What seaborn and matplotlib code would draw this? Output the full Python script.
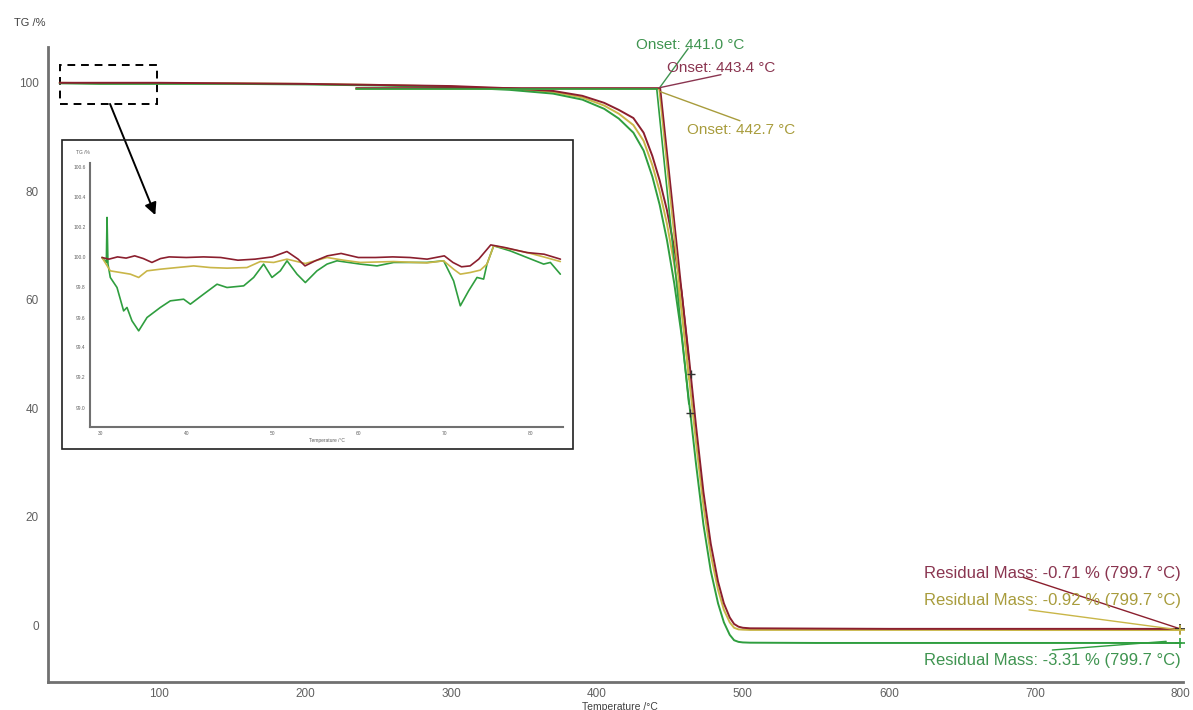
import numpy as np
import pandas as pd
import seaborn as sns
import matplotlib.pyplot as plt
from matplotlib.patches import Rectangle
from matplotlib.ticker import MultipleLocator

# 1. Data (temperature in degC, mass in %)
temp = [32, 60, 100, 150, 200, 250, 300, 340, 370, 390, 405, 415, 425, 432, 438,
        443, 448, 453, 458, 463, 468, 473, 478, 483, 487, 491, 494, 497, 500, 505,
        550, 600, 650, 700, 750, 800]
tg_red = [100.0, 100.0, 100.0, 99.9, 99.8, 99.6, 99.4, 99.0, 98.5, 97.6, 96.3, 95.0,
          93.5, 90.8, 86.5, 82.0, 76.5, 69.5, 61.5, 49.5, 36.5, 24.5, 15.0, 8.0,
          4.0, 1.4, 0.2, -0.3, -0.5, -0.6, -0.65, -0.7, -0.7, -0.7, -0.7, -0.71]
tg_olive = [100.0, 99.9, 99.9, 99.9, 99.8, 99.6, 99.3, 98.9, 98.3, 97.3, 95.8, 94.3,
            92.2, 89.3, 84.8, 80.0, 74.0, 66.5, 58.0, 46.0, 33.5, 22.0, 13.0, 6.5,
            2.8, 0.5, -0.5, -0.8, -0.85, -0.9, -0.9, -0.9, -0.9, -0.92, -0.92, -0.92]
tg_green = [99.9, 99.8, 99.8, 99.8, 99.7, 99.5, 99.2, 98.7, 98.0, 96.9, 95.2, 93.4,
            90.8, 87.5, 82.7, 77.5, 71.0, 63.0, 53.5, 41.5, 29.5, 18.5, 10.0, 4.0,
            0.5, -1.8, -2.8, -3.1, -3.2, -3.25, -3.3, -3.3, -3.3, -3.3, -3.3, -3.31]

onset_temps = [441.0, 443.4, 442.7]      # green, red, olive
onset_base = [98.9, 99.1, 98.8]
residuals = [-3.31, -0.71, -0.92]        # green, red, olive

# zoomed start of the run (inset)
in_t_red = [30.2, 31, 32, 33, 34, 35, 36, 37, 38, 40, 42, 44, 46, 48, 50, 51.7, 53,
            53.8, 55, 56.4, 58, 60, 62, 64, 66, 68, 70, 71, 72, 73, 74, 75.4, 77,
            79.6, 81.6, 83.5]
in_red = [100.0, 99.989, 100.004, 99.996, 100.011, 99.993, 99.967, 99.993, 100.004,
          100.0, 100.004, 100.0, 99.982, 99.989, 100.004, 100.04, 99.989, 99.944,
          99.978, 100.011, 100.027, 100.0, 100.0, 100.004, 100.0, 99.989, 100.011,
          99.967, 99.938, 99.944, 99.989, 100.084, 100.067, 100.033, 100.022, 99.989]
in_t_olive = [30.19, 31.16, 32.33, 33.49, 34.46, 35.43, 36.98, 38.91, 40.85, 42.79,
              44.73, 47.05, 48.6, 50.16, 51.7, 53.84, 56.36, 58.29, 60.23, 64.11,
              67.98, 69.92, 71.08, 71.86, 73.02, 74.19, 74.96, 75.74, 77.67, 79.61,
              81.55, 83.49]
in_olive = [100.0, 99.911, 99.9, 99.889, 99.867, 99.911, 99.922, 99.933, 99.944,
            99.933, 99.929, 99.933, 99.973, 99.967, 99.989, 99.96, 100.0, 99.982,
            99.967, 99.973, 99.964, 99.978, 99.922, 99.889, 99.9, 99.916, 99.956,
            100.078, 100.056, 100.033, 100.004, 99.973]
in_t_green = [30.19, 30.70, 30.78, 30.89, 31.16, 31.94, 32.71, 33.10, 33.68, 34.46,
              35.43, 36.98, 38.14, 39.69, 40.47, 42.02, 43.57, 44.73, 46.67, 47.83,
              48.99, 49.96, 50.93, 51.71, 52.87, 53.84, 55.19, 56.36, 57.52, 60.23,
              62.17, 64.11, 67.98, 69.92, 71.08, 71.86, 72.83, 73.80, 74.57, 74.96,
              75.74, 77.67, 79.61, 81.55, 82.33, 83.49]
in_green = [100.0, 99.967, 100.267, 99.956, 99.867, 99.8, 99.644, 99.667, 99.578,
            99.511, 99.6, 99.667, 99.711, 99.722, 99.689, 99.756, 99.822, 99.8,
            99.811, 99.867, 99.956, 99.867, 99.911, 99.978, 99.889, 99.833, 99.911,
            99.956, 99.978, 99.956, 99.944, 99.967, 99.967, 99.978, 99.844, 99.678,
            99.778, 99.867, 99.856, 99.956, 100.078, 100.044, 100.0, 99.956, 99.967,
            99.889]

inset_yticks = [99.0, 99.2, 99.4, 99.6, 99.8, 100.0, 100.2, 100.4, 100.6]
inset_xticks = [30, 40, 50, 60, 70, 80]

RED = '#8b1f2e'
OLIVE = '#c9b648'
GREEN = '#2f9e3f'
palette = {'red': RED, 'olive': OLIVE, 'green': GREEN}
text_cols = {'red': '#8a3550', 'olive': '#a89c3c', 'green': '#3f9450'}


def long_frame(parts):
    frames = []
    for name, t, v in parts:
        frames.append(pd.DataFrame({'T': t, 'TG': v, 'sample': name}))
    return pd.concat(frames, ignore_index=True)


def style_axis(ax, size):
    sns.despine(ax=ax)
    for s in ['left', 'bottom']:
        ax.spines[s].set_color('#707070')
    ax.tick_params(colors='#707070', labelcolor='#606060', labelsize=size)


sns.set_style('white')
plt.rcParams['font.family'] = ['Liberation Sans', 'DejaVu Sans']

fig = plt.figure(figsize=(11.93, 7.1), dpi=100)
W, H = 1193, 710
ax = fig.add_axes([48 / W, 28 / H, 1135 / W, 635 / H])

# 2. Main TG curves
main_df = long_frame([('olive', temp, tg_olive), ('green', temp, tg_green),
                      ('red', temp, tg_red)])
sns.lineplot(data=main_df, x='T', y='TG', hue='sample', palette=palette,
             hue_order=['olive', 'green', 'red'], linewidth=1.4, legend=False,
             sort=False, ax=ax)

ax.set_xlim(24, 801.5)
ax.set_ylim(-10.5, 106.6)
ax.xaxis.set_major_locator(MultipleLocator(100))
ax.xaxis.set_minor_locator(MultipleLocator(20))
ax.yaxis.set_major_locator(MultipleLocator(20))
ax.yaxis.set_minor_locator(MultipleLocator(10))
ax.set_xticks([100, 200, 300, 400, 500, 600, 700, 800])
style_axis(ax, 8.5)
ax.spines['left'].set_linewidth(2)
ax.spines['bottom'].set_linewidth(2)
ax.tick_params(which='both', direction='out', length=3, width=1)
ax.tick_params(axis='x', pad=1.5)
ax.set_xlabel('Temperature /°C', fontsize=7.5, color='#404040')
ax.xaxis.set_label_coords(0.504, -0.031)
ax.set_ylabel('')
ax.text(-0.03, 1.038, 'TG /%', transform=ax.transAxes, fontsize=8,
        color='#404040', ha='left', va='center')

# 3. Onset construction lines (baseline + inflection tangent)
curves = {'green': tg_green, 'red': tg_red, 'olive': tg_olive}
for name, on, base in zip(['olive', 'red', 'green'],
                          [onset_temps[2], onset_temps[1], onset_temps[0]],
                          [onset_base[2], onset_base[1], onset_base[0]]):
    t_contact = 460.0
    v_contact = np.interp(t_contact, temp, curves[name])
    slope = (base - v_contact) / (t_contact - on)
    t_end = t_contact + 3
    ax.plot([235, on], [base, base], color=palette[name], lw=1.2)
    ax.plot([on, t_end], [base, base - slope * (t_end - on)], color=palette[name], lw=1.2)

ax.text(464, 107, 'Onset: 441.0 °C', color=text_cols['green'], fontsize=11,
        ha='center', va='center', clip_on=False)
ax.plot([443, 462.5], [99.1, 106.3], color=text_cols['green'], lw=1)
ax.text(485, 102.8, 'Onset: 443.4 °C', color=text_cols['red'], fontsize=11,
        ha='center', va='center')
ax.plot([443, 485], [99.1, 101.5], color=text_cols['red'], lw=1)
ax.text(499, 91.3, 'Onset: 442.7 °C', color=text_cols['olive'], fontsize=11,
        ha='center', va='center')
ax.plot([443, 498], [98.4, 93.0], color=text_cols['olive'], lw=1)

# 4. Residual mass labels
ax.text(800, 9.6, 'Residual Mass: -0.71 % (799.7 °C)', color=text_cols['red'],
        fontsize=12, ha='right', va='center')
ax.plot([692, 799.7], [8.8, residuals[1]], color=RED, lw=1)
ax.text(800, 4.6, 'Residual Mass: -0.92 % (799.7 °C)', color=text_cols['olive'],
        fontsize=12, ha='right', va='center')
ax.plot([696, 799.7], [2.8, residuals[2]], color=OLIVE, lw=1)
ax.text(800, -6.6, 'Residual Mass: -3.31 % (799.7 °C)', color=text_cols['green'],
        fontsize=12, ha='right', va='center')
ax.plot([712, 790], [-4.6, -3.0], color=GREEN, lw=1)
for name, r in zip(['green', 'red', 'olive'], residuals):
    ax.plot(799.7, r, marker='+', ms=7, color=palette[name] if name != 'red' else '#222222',
            mew=1.2, clip_on=False)

# two of the instrument's point markers on the step
for name, t_mark in [('red', 464.2), ('green', 464.0)]:
    ax.plot(t_mark, np.interp(t_mark, temp, curves[name]), marker='+', ms=6,
            color='#333333', mew=1)

# 5. Zoom marker: dashed box and arrow
ax.add_patch(Rectangle((32.5, 96.1), 66, 7.2, fill=False, ls=(0, (4, 3)),
                       lw=1.4, ec='black'))
ax.annotate('', xy=(97.5, 75.6), xytext=(66.5, 96.1),
            arrowprops=dict(arrowstyle='-|>', color='black', lw=1.4,
                            mutation_scale=18, shrinkA=0, shrinkB=0))

# 6. Inset with the first part of the run
fig.add_artist(Rectangle((62 / W, (H - 449) / H), 511 / W, 309 / H,
                         transform=fig.transFigure, fill=False, ec='#202020',
                         lw=1.2))
ins = fig.add_axes([90 / W, (H - 427) / H, 473 / W, 264 / H])
ins_df = long_frame([('green', in_t_green, in_green), ('olive', in_t_olive, in_olive),
                     ('red', in_t_red, in_red)])
sns.lineplot(data=ins_df, x='T', y='TG', hue='sample', palette=palette,
             hue_order=['green', 'olive', 'red'], linewidth=1.2, legend=False,
             sort=False, ax=ins)
ins.set_xlim(28.8, 83.8)
ins.set_ylim(98.87, 100.63)
ins.set_yticks(inset_yticks)
ins.set_yticklabels([f'{v:.1f}' for v in inset_yticks])
ins.set_xticks(inset_xticks)
style_axis(ins, 3.5)
ins.spines['left'].set_linewidth(1.5)
ins.spines['bottom'].set_linewidth(1.5)
ins.tick_params(direction='out', length=2, width=0.8, pad=1)
ins.set_xlabel('Temperature /°C', fontsize=3.5, color='#606060', labelpad=1)
ins.set_ylabel('')
ins.text(-0.03, 1.03, 'TG /%', transform=ins.transAxes, fontsize=3.5,
         color='#606060', ha='left', va='bottom')
ins.set_facecolor('none')

fig.savefig('out.png', dpi=100)
